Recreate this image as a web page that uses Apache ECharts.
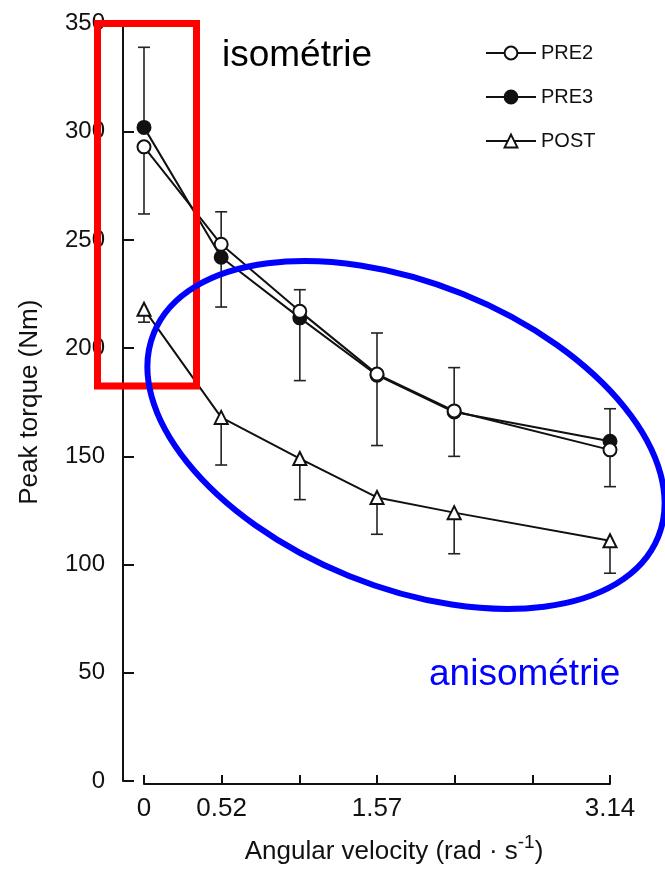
<!DOCTYPE html>
<html>
<head>
<meta charset="utf-8">
<script src="https://cdn.jsdelivr.net/npm/echarts@6/dist/echarts.min.js"></script>
<style>
  html, body { margin: 0; padding: 0; background: #fff; }
  #chart { width: 665px; height: 870px; }
</style>
</head>
<body>
<div id="chart"></div>
<script>
// vitesses angulaires (rad/s)
var velocities = [0, 0.52, 1.05, 1.57, 2.09, 3.14];
// couple de pointe (Nm)
var pre2 = [293, 248, 217, 188, 171, 153];
var pre3 = [302, 242, 214, 187.5, 170.5, 157];
var post = [218, 168, 149, 131, 124, 111];
// bornes des barres d'erreur
var preUpper = [339, 263, 227, 207, 191, 172];
var preLower = [262, 219, 185, 155, 150, 136];
var postLower = [212, 146, 130, 114, 105, 96];
// libellés de l'axe x (un par graduation)
var xTickLabels = ['0', '0.52', '', '1.57', '', '', '3.14'];
var yTicks = [0, 50, 100, 150, 200, 250, 300, 350];

var FONT = 'Liberation Sans, Arial, sans-serif';
var chart = echarts.init(document.getElementById('chart'));

function pairs(ys) {
  return velocities.map(function (x, i) { return [x, ys[i]]; });
}
function bars(from, to) {
  return velocities.map(function (x, i) { return [x, from[i], to[i]]; });
}

// barre d'erreur : trait vertical + petit chapeau
function renderBar(params, api) {
  var p0 = api.coord([api.value(0), api.value(1)]);
  var p1 = api.coord([api.value(0), api.value(2)]);
  var style = { stroke: '#222', lineWidth: 1.6 };
  return {
    type: 'group',
    children: [
      { type: 'line', shape: { x1: p0[0], y1: p0[1], x2: p1[0], y2: p1[1] }, style: style },
      { type: 'line', shape: { x1: p1[0] - 6, y1: p1[1], x2: p1[0] + 6, y2: p1[1] }, style: style }
    ]
  };
}

function lineSeries(name, ys, symbol, fill) {
  return {
    name: name,
    type: 'line',
    data: pairs(ys),
    symbol: symbol,
    symbolSize: 13,
    showAllSymbol: true,
    z: 3,
    lineStyle: { color: '#111', width: 2 },
    itemStyle: { color: fill, borderColor: '#111', borderWidth: 2 },
    emphasis: { disabled: true }
  };
}

function barSeries(from, to) {
  return {
    type: 'custom',
    renderItem: renderBar,
    data: bars(from, to),
    z: 2,
    silent: true
  };
}

var option = {
  backgroundColor: '#fff',
  animation: false,
  textStyle: { fontFamily: FONT },
  grid: { left: 144, right: 55, top: 23.5, bottom: 88.5 },
  legend: {
    orient: 'vertical',
    left: 485,
    top: 43,
    padding: 0,
    itemWidth: 50,
    itemHeight: 16,
    itemGap: 24,
    data: ['PRE2', 'PRE3', 'POST'],
    textStyle: { fontFamily: FONT, fontSize: 20, color: '#111' }
  },
  xAxis: {
    type: 'value',
    min: 0,
    max: 3.14,
    interval: 3.14 / 6,
    offset: 3,
    splitLine: { show: false },
    axisLine: { onZero: false, lineStyle: { color: '#111', width: 2 } },
    axisTick: { inside: true, length: 9, lineStyle: { color: '#111', width: 2 } },
    axisLabel: {
      margin: 12,
      fontSize: 26,
      color: '#111',
      formatter: function (v, i) { return xTickLabels[i] || ''; }
    },
    name: '{a|Angular velocity (rad · s}{s|-1}{a|)}',
    nameLocation: 'middle',
    nameGap: 49,
    nameTextStyle: {
      padding: [0, 0, 0, 34],
      rich: {
        a: { fontFamily: FONT, fontSize: 26, color: '#111', lineHeight: 32, verticalAlign: 'bottom' },
        s: { fontFamily: FONT, fontSize: 19, color: '#111', lineHeight: 32, verticalAlign: 'top' }
      }
    }
  },
  yAxis: {
    type: 'value',
    min: yTicks[0],
    max: yTicks[yTicks.length - 1],
    interval: yTicks[1] - yTicks[0],
    offset: 21,
    splitLine: { show: false },
    axisLine: { show: true, onZero: false, lineStyle: { color: '#111', width: 2 } },
    axisTick: { show: true, inside: true, length: 11, lineStyle: { color: '#111', width: 2 } },
    axisLabel: { margin: 18, fontSize: 24, color: '#111' },
    name: 'Peak torque (Nm)',
    nameLocation: 'middle',
    nameGap: 80,
    nameTextStyle: { fontFamily: FONT, fontSize: 26, color: '#111' }
  },
  series: [
    barSeries(pre3, preUpper),
    barSeries(pre2, preLower),
    barSeries(post, postLower),
    lineSeries('PRE3', pre3, 'circle', '#111'),
    lineSeries('PRE2', pre2, 'circle', '#fff'),
    lineSeries('POST', post, 'triangle', '#fff')
  ],
  graphic: [
    {
      type: 'rect',
      z: 100,
      shape: { x: 97.5, y: 23.5, width: 99, height: 362.5 },
      style: { fill: 'none', stroke: '#ff0000', lineWidth: 7 }
    },
    {
      type: 'ellipse',
      z: 100,
      x: 406,
      y: 435,
      rotation: -22 * Math.PI / 180,
      shape: { cx: 0, cy: 0, rx: 272, ry: 152 },
      style: { fill: 'none', stroke: '#0000ff', lineWidth: 6 }
    },
    {
      type: 'text',
      z: 100,
      x: 222,
      y: 56,
      style: { text: 'isométrie', font: '37px ' + FONT, fill: '#000', verticalAlign: 'middle' }
    },
    {
      type: 'text',
      z: 100,
      x: 429,
      y: 675,
      style: { text: 'anisométrie', font: '37px ' + FONT, fill: '#0000ff', verticalAlign: 'middle' }
    }
  ]
};

chart.setOption(option);
</script>
</body>
</html>
